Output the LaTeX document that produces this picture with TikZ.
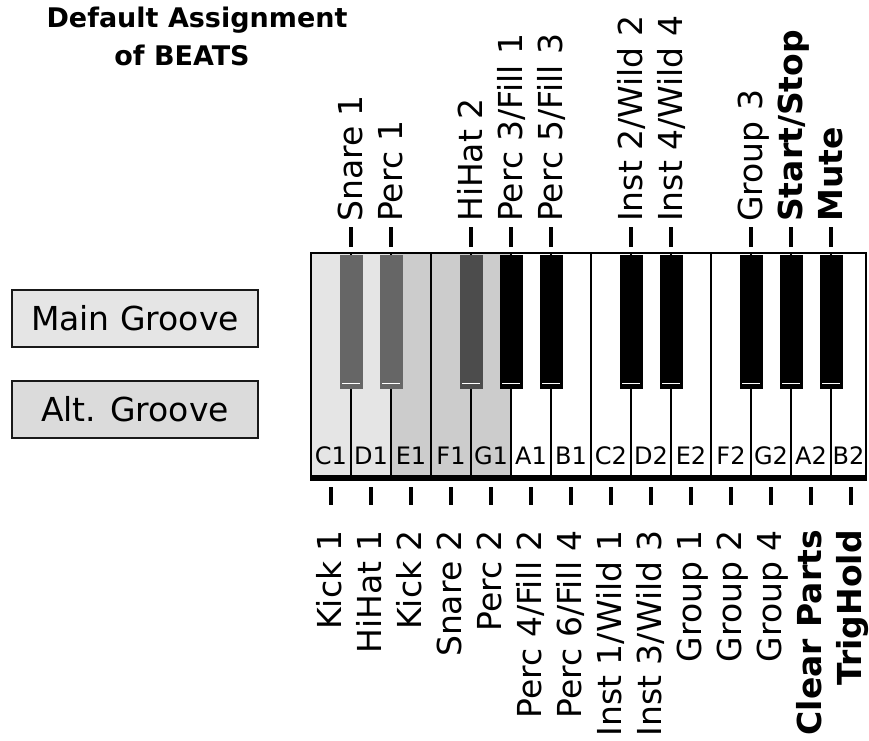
\documentclass[tikz,border=0pt]{standalone}
\usepackage{fontspec}
\setmainfont{DejaVu Sans}
\usepackage{tikz}
\usepackage{xcolor}

\definecolor{keyLight}{gray}{0.9}
\definecolor{keyMid}{gray}{0.8}
\definecolor{keyDim}{gray}{0.4}
\definecolor{keyDark}{gray}{0.3}
\definecolor{altFill}{gray}{0.86}

\begin{document}
\begin{tikzpicture}[x=1pt, y=-1pt,
    white_key/.style={rectangle, draw=black, line width=1.5pt, minimum width=40pt, minimum height=223pt, inner sep=0pt, fill=white},
    black_key/.style={rectangle, minimum width=23pt, minimum height=134pt, inner sep=0pt, fill=black},
    key_shine/.style={white, line width=1.2pt},
    key_label/.style={anchor=base, inner sep=0pt, font=\fontsize{24}{28}\selectfont},
    top_label/.style={anchor=base west, rotate=90, inner sep=0pt, font=\fontsize{33}{40}\selectfont},
    bot_label/.style={anchor=base east, rotate=90, inner sep=0pt, font=\fontsize{33}{40}\selectfont},
    tick_mark/.style={line width=4pt},
    groove_box/.style={rectangle, draw=black!90, line width=2pt, minimum width=246pt, minimum height=57pt, inner sep=0pt, font=\fontsize{33}{40}\selectfont},
    title_text/.style={anchor=base, inner sep=0pt, font=\fontsize{27}{32}\selectfont\bfseries}]

    \useasboundingbox (0,0) rectangle (869,740);

    % title
    \node[title_text] (title_a) at (197,27) {Default Assignment};
    \node[title_text] (title_b) at (182,65) {of BEATS};

    % groove buttons
    \node[groove_box, fill=keyLight] (main_groove) at (135,318) {Main Groove};
    \node[groove_box, fill=altFill] (alt_groove) at (135,409.5) {Alt. Groove};

    % white keys
    \node[white_key, fill=keyLight] (c1) at (331,364.5) {};
    \node[white_key, fill=keyLight] (d1) at (371,364.5) {};
    \node[white_key, fill=keyMid] (e1) at (411,364.5) {};
    \node[white_key, fill=keyMid] (f1) at (451,364.5) {};
    \node[white_key, fill=keyMid] (g1) at (491,364.5) {};
    \node[white_key] (a1) at (531,364.5) {};
    \node[white_key] (b1) at (571,364.5) {};
    \node[white_key] (c2) at (611,364.5) {};
    \node[white_key] (d2) at (651,364.5) {};
    \node[white_key] (e2) at (691,364.5) {};
    \node[white_key] (f2) at (731,364.5) {};
    \node[white_key] (g2) at (771,364.5) {};
    \node[white_key] (a2) at (811,364.5) {};
    \node[white_key, minimum width=35pt] (b2) at (848.5,364.5) {};

    \draw[line width=4pt] ([yshift=-2pt]c1.south west) -- ([yshift=-2pt]b2.south east);

    % black keys
    \node[black_key, fill=keyDim] (cs1) at (351,322) {};
    \node[black_key, fill=keyDim] (ds1) at (391,322) {};
    \node[black_key, fill=keyDark] (fs1) at (471,322) {};
    \node[black_key] (gs1) at (511,322) {};
    \node[black_key] (as1) at (551,322) {};
    \node[black_key] (cs2) at (631,322) {};
    \node[black_key] (ds2) at (671,322) {};
    \node[black_key] (fs2) at (751,322) {};
    \node[black_key] (gs2) at (791,322) {};
    \node[black_key] (as2) at (831,322) {};

    \foreach \k in {cs1,ds1,fs1,gs1,as1,cs2,ds2,fs2,gs2,as2}
        \draw[key_shine] ([xshift=3pt,yshift=6pt]\k.south west) -- ([xshift=-3pt,yshift=6pt]\k.south east);

    % note names
    \node[key_label] (c1_name) at ([yshift=12pt]c1.south) {C1};
    \node[key_label] (d1_name) at ([yshift=12pt]d1.south) {D1};
    \node[key_label] (e1_name) at ([yshift=12pt]e1.south) {E1};
    \node[key_label] (f1_name) at ([yshift=12pt]f1.south) {F1};
    \node[key_label] (g1_name) at ([yshift=12pt]g1.south) {G1};
    \node[key_label] (a1_name) at ([yshift=12pt]a1.south) {A1};
    \node[key_label] (b1_name) at ([yshift=12pt]b1.south) {B1};
    \node[key_label] (c2_name) at ([yshift=12pt]c2.south) {C2};
    \node[key_label] (d2_name) at ([yshift=12pt]d2.south) {D2};
    \node[key_label] (e2_name) at ([yshift=12pt]e2.south) {E2};
    \node[key_label] (f2_name) at ([yshift=12pt]f2.south) {F2};
    \node[key_label] (g2_name) at ([yshift=12pt]g2.south) {G2};
    \node[key_label] (a2_name) at ([yshift=12pt]a2.south) {A2};
    \node[key_label] (b2_name) at ([yshift=12pt]b2.south) {B2};

    % top assignments
    \foreach \x in {351,391,471,511,551,631,671,751,791,831}
        \draw[tick_mark] (\x,227) -- (\x,247);
    \node[top_label] (cs1_txt) at (362,222) {Snare 1};
    \node[top_label] (ds1_txt) at (402,222) {Perc 1};
    \node[top_label] (fs1_txt) at (482,222) {HiHat 2};
    \node[top_label] (gs1_txt) at (522,222) {Perc 3/Fill 1};
    \node[top_label] (as1_txt) at (562,222) {Perc 5/Fill 3};
    \node[top_label] (cs2_txt) at (642,222) {Inst 2/Wild 2};
    \node[top_label] (ds2_txt) at (682,222) {Inst 4/Wild 4};
    \node[top_label] (fs2_txt) at (762,222) {Group 3};
    \node[top_label] (gs2_txt) at (802,222) {\bfseries Start/Stop};
    \node[top_label] (as2_txt) at (842,222) {\bfseries Mute};

    % bottom assignments
    \foreach \x in {331,371,411,451,491,531,571,611,651,691,731,771,811,851}
        \draw[tick_mark] (\x,487) -- (\x,505);
    \node[bot_label] (c1_txt) at (341,530) {Kick 1};
    \node[bot_label] (d1_txt) at (381,530) {HiHat 1};
    \node[bot_label] (e1_txt) at (421,530) {Kick 2};
    \node[bot_label] (f1_txt) at (461,530) {Snare 2};
    \node[bot_label] (g1_txt) at (501,530) {Perc 2};
    \node[bot_label] (a1_txt) at (541,530) {Perc 4/Fill 2};
    \node[bot_label] (b1_txt) at (581,530) {Perc 6/Fill 4};
    \node[bot_label] (c2_txt) at (621,530) {Inst 1/Wild 1};
    \node[bot_label] (d2_txt) at (661,530) {Inst 3/Wild 3};
    \node[bot_label] (e2_txt) at (701,530) {Group 1};
    \node[bot_label] (f2_txt) at (741,530) {Group 2};
    \node[bot_label] (g2_txt) at (781,530) {Group 4};
    \node[bot_label] (a2_txt) at (821,530) {\bfseries Clear Parts};
    \node[bot_label] (b2_txt) at (861,530) {\bfseries TrigHold};
\end{tikzpicture}
\end{document}
